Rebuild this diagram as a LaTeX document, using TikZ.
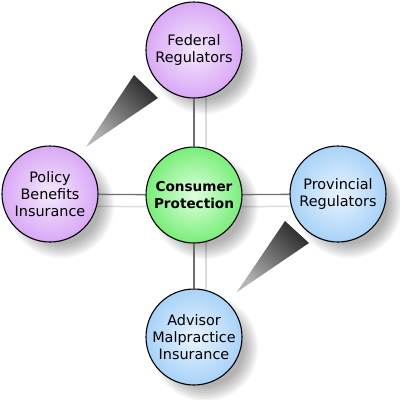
\documentclass[tikz,border=0pt]{standalone}
\usepackage{fontspec}
\setmainfont{DejaVu Sans}
\pgfdeclarelayer{ghost}
\pgfdeclarelayer{shad}
\pgfdeclarelayer{links}
\pgfsetlayers{ghost,shad,links,main}
\definecolor{purpleedge}{HTML}{D9A8F5}
\definecolor{purplemid}{HTML}{F4E8FD}
\definecolor{blueedge}{HTML}{A8D2F8}
\definecolor{bluemid}{HTML}{E8F4FF}
\definecolor{greenedge}{HTML}{78EE78}
\definecolor{greenmid}{HTML}{E0FFE0}
\definecolor{linkdark}{HTML}{6E6E6E}
\definecolor{linklight}{HTML}{DCDCDC}
\definecolor{wedgedark}{HTML}{2E2E2E}
\definecolor{wedgelight}{HTML}{B4B4B4}
\tikzset{
  bubble/.style={circle, draw=black, line width=1.1pt, minimum size=96pt, inner sep=0pt,
    align=center, font=\fontsize{14.4}{17}\selectfont},
  purplebubble/.style={bubble, inner color=purplemid, outer color=purpleedge},
  bluebubble/.style={bubble, inner color=bluemid, outer color=blueedge},
  greenbubble/.style={bubble, inner color=greenmid, outer color=greenedge,
    font=\fontsize{13.6}{16.5}\selectfont\bfseries},
  link/.style={draw=linkdark, line width=1.3pt},
  ghostlink/.style={draw=linklight, line width=1.5pt},
  wedge/.style={shading=axis, top color=wedgedark, bottom color=wedgelight, shading angle=-45},
}
\newcommand{\softshadow}[1]{%
  \foreach \rr in {53,51,...,39}{%
    \fill[black, opacity=0.045] ([shift={(11,11)}]#1.center) circle (\rr pt);}%
}
\begin{document}
\begin{tikzpicture}[x=1pt,y=-1pt]
\useasboundingbox (0,0) rectangle (400,400);
\node[purplebubble] (fed) at (194,50) {Federal\\Regulators};
\node[greenbubble] (cons) at (194,195) {Consumer\\Protection};
\node[purplebubble] (pol) at (50,194) {Policy\\Benefits\\Insurance};
\node[bluebubble] (prov) at (338,194) {Provincial\\Regulators};
\node[bluebubble] (adv) at (194,337) {Advisor\\Malpractice\\Insurance};
\begin{pgfonlayer}{ghost}
  \draw[ghostlink] ([shift={(12,0)}]fed.center) -- ([shift={(12,0)}]cons.center);
  \draw[ghostlink] ([shift={(12,0)}]cons.center) -- ([shift={(12,0)}]adv.center);
  \draw[ghostlink] ([shift={(0,12)}]pol.center) -- ([shift={(0,12)}]cons.center);
  \draw[ghostlink] ([shift={(0,12)}]cons.center) -- ([shift={(0,12)}]prov.center);
\end{pgfonlayer}
\begin{pgfonlayer}{shad}
  \softshadow{fed}
  \softshadow{cons}
  \softshadow{pol}
  \softshadow{prov}
  \softshadow{adv}
\end{pgfonlayer}
\begin{pgfonlayer}{links}
  \draw[link] (fed) -- (cons);
  \draw[link] (cons) -- (adv);
  \draw[link] (pol) -- (cons);
  \draw[link] (cons) -- (prov);
  \shade[wedge] (134,75) -- (158,98) -- (86,147) -- cycle;
  \shade[wedge] (285,221) -- (309,243) -- (237,292) -- cycle;
\end{pgfonlayer}
\end{tikzpicture}
\end{document}
